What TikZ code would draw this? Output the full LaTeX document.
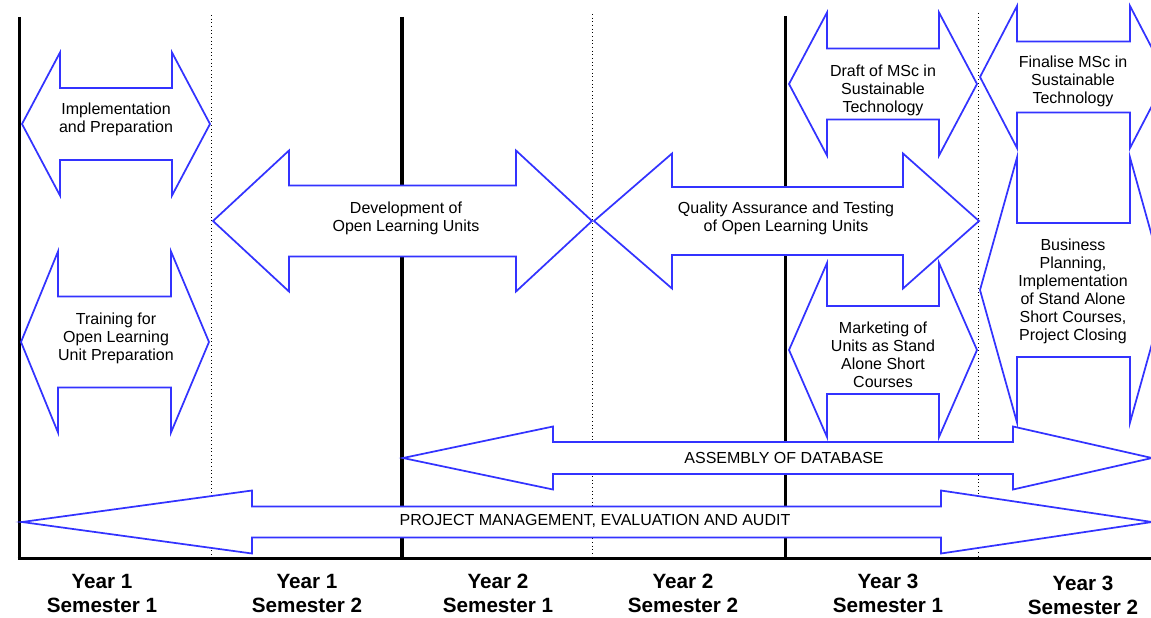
\documentclass[tikz,border=0pt]{standalone}
\usepackage{fontspec}
\setmainfont{Liberation Sans}

\definecolor{arrowblue}{RGB}{51,51,255}

\tikzset{
  bar/.style={draw=arrowblue, fill=white, line width=1.3pt, line join=miter},
  lbl/.style={align=center, inner sep=0pt, font=\fontsize{12}{13.5}\selectfont},
  semlbl/.style={align=center, inner sep=0pt, font=\fontsize{15.5}{18}\selectfont\bfseries},
  yearline/.style={line width=2.4pt},
  halfline/.style={line width=0.75pt, dotted},
}

% double block arrow: left tip, left back, right back, right tip, centre y, head half, shaft half
\newcommand{\dblarrow}[7]{%
  \draw[bar] (#1,#5) -- (#2,#5-#6) -- (#2,#5-#7) -- (#3,#5-#7) -- (#3,#5-#6)
    -- (#4,#5) -- (#3,#5+#6) -- (#3,#5+#7) -- (#2,#5+#7) -- (#2,#5+#6) -- cycle;}

\begin{document}
\begin{tikzpicture}[x={(0.75pt,0)}, y={(0,-0.75pt)}]

\useasboundingbox (0,0) rectangle (1151,617);
\clip (0,0) rectangle (1151,617);

% Year boundaries
\foreach \x/\top in {19.3/17,402/17,785.5/16}
  \draw[yearline] (\x,\top) -- (\x,558.5);

% Semester boundaries
\foreach \x/\top in {211.5/15,592/14,978.5/13}
  \draw[halfline] (\x,\top) -- (\x,558.5);

% Year 1
\dblarrow{22}{60}{172}{210}{124}{71.5}{36}
\node[lbl] (impl) at (116,119) {Implementation\\and Preparation};

\dblarrow{21}{58}{171}{209}{342}{90.5}{45.5}
\node[lbl] (train) at (116,338) {Training for\\Open Learning\\Unit Preparation};

\dblarrow{213}{289}{516}{592}{221}{70.5}{35.5}
\node[lbl] (devel) at (406,218) {Development of\\Open Learning Units};

% Year 2
\dblarrow{594}{672}{903}{979}{221}{67.5}{34}
\node[lbl] (qa) at (786,218) {Quality Assurance and Testing\\of Open Learning Units};

% Year 3
\dblarrow{789}{827}{939}{977}{84}{71.5}{35.5}
\node[lbl] (draft) at (883,90) {Draft of MSc in\\Sustainable\\Technology};

\dblarrow{789}{827}{939}{977}{350}{87}{44}
\node[lbl] (market) at (883,355) {Marketing of\\Units as Stand\\Alone Short\\Courses};

\dblarrow{980}{1017}{1130}{1167}{77}{71}{35.5}
\node[lbl] (final) at (1073,81) {Finalise MSc in\\Sustainable\\Technology};

\dblarrow{980}{1017}{1130}{1167}{290}{132.5}{67}
\node[lbl] (business) at (1073,291) {Business\\Planning,\\Implementation\\of Stand Alone\\Short Courses,\\Project Closing};

% Running activities
\dblarrow{403}{553}{1013}{1152}{458}{31.5}{16}
\node[lbl] (assembly) at (784,458) {ASSEMBLY OF DATABASE};

\dblarrow{22}{252}{941}{1152}{522}{31.5}{15.5}
\node[lbl] (projman) at (595,521) {PROJECT MANAGEMENT, EVALUATION AND AUDIT};

% Time axis
\draw[line width=2.6pt] (17.5,558.5) -- (1151,558.5);

% Semester labels
\foreach \x/\y/\yr/\sem/\nm in {102/593/1/1/ysa,307/593/1/2/ysb,498/593/2/1/ysc,
    683/593/2/2/ysd,888/593/3/1/yse,1083/595/3/2/ysf}
  \node[semlbl] (\nm) at (\x,\y) {Year \yr\\Semester \sem};

\end{tikzpicture}
\end{document}
